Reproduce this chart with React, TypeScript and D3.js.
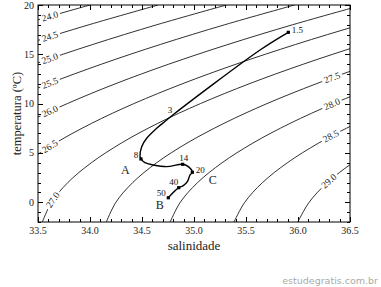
import React, { useEffect, useRef } from 'react';
import * as d3 from 'd3';

const W = 381;
const H = 287;

// temperatures (°C) at which each sigma-t isoline salinity was read
const temps = [-2, 0, 2, 4, 6, 8, 10, 12, 14, 16, 18, 20];
// salinity of each sigma-t isoline at those temperatures
const s240 = [29.857, 29.915, 30.044, 30.242, 30.506, 30.832, 31.220, 31.667, 32.170, 32.727, 33.338, 34.000];
const s245 = [30.471, 30.534, 30.668, 30.870, 31.138, 31.469, 31.860, 32.310, 32.817, 33.377, 33.991, 34.655];
const s250 = [31.086, 31.153, 31.292, 31.498, 31.771, 32.105, 32.500, 32.954, 33.463, 34.027, 34.643, 35.311];
const s255 = [31.700, 31.772, 31.916, 32.127, 32.403, 32.742, 33.141, 33.597, 34.110, 34.677, 35.296, 35.966];
const s260 = [32.314, 32.392, 32.540, 32.755, 33.036, 33.378, 33.781, 34.241, 34.757, 35.327, 35.949, 36.622];
const s265 = [32.928, 33.011, 33.163, 33.384, 33.668, 34.015, 34.421, 34.885, 35.404, 35.977, 36.602, 37.277];
const s270 = [33.542, 33.630, 33.787, 34.012, 34.301, 34.651, 35.061, 35.528, 36.051, 36.627, 37.254, 37.933];
const s275 = [34.157, 34.249, 34.411, 34.640, 34.933, 35.288, 35.701, 36.172, 36.697, 37.277, 37.907, 38.588];
const s280 = [34.771, 34.868, 35.035, 35.269, 35.566, 35.924, 36.341, 36.815, 37.344, 37.927, 38.560, 39.244];
const s285 = [35.385, 35.488, 35.659, 35.897, 36.198, 36.561, 36.981, 37.459, 37.991, 38.577, 39.212, 39.899];
const s290 = [35.999, 36.107, 36.283, 36.526, 36.831, 37.197, 37.621, 38.103, 38.638, 39.226, 39.865, 40.555];
const isoLevels = ['24.0', '24.5', '25.0', '25.5', '26.0', '26.5', '27.0', '27.5', '28.0', '28.5', '29.0'];
const isoSal = [s240, s245, s250, s255, s260, s265, s270, s275, s280, s285, s290];

// T-S profile
const profileS = [35.907, 35.635, 34.808, 34.738, 34.641, 34.545, 34.497, 34.481, 34.490, 34.529, 34.609, 34.738, 34.891, 34.945, 34.984, 34.962, 34.936, 34.897, 34.853, 34.753];
const profileT = [17.23, 15.44, 8.95, 8.34, 7.50, 6.49, 5.63, 4.62, 4.39, 4.01, 3.78, 3.61, 3.85, 3.61, 3.04, 2.77, 2.09, 1.68, 1.48, 0.46];

// depth labels (m)
const depthNames = ['1.5', '3', '8', '14', '20', '40', '50'];
const depthS = [35.907, 34.808, 34.490, 34.891, 34.984, 34.853, 34.753];
const depthT = [17.23, 8.95, 4.39, 3.85, 3.04, 1.48, 0.46];
const depthDot = [true, false, true, true, true, true, true];

const waterMasses = ['A', 'B', 'C'];
const massS = [34.34, 34.67, 35.18];
const massT = [3.3, -0.3, 2.3];

const xTicks = ['33.5', '34.0', '34.5', '35.0', '35.5', '36.0', '36.5'];
const yTicks = ['0', '5', '10', '15', '20'];

// layout for contour labels
const labelX = [50, 50, 50, 50, 50, 50, 53, 332, 332, 331, 329];
const depthOffX = [9, -4, -5, 1, 8, -5, -7];
const depthOffY = [-2, -4, -4, -6, -2, -6, -5];

const SERIF = '"Liberation Serif", "Times New Roman", serif';

export default function App() {
  const ref = useRef<SVGSVGElement>(null);

  useEffect(() => {
    const svg = d3.select(ref.current);
    svg.selectAll('*').remove();

    const L = 38, R = 350, T0 = 5, B = 222;
    const x = d3.scaleLinear().domain([33.5, 36.5]).range([L, R]);
    const y = d3.scaleLinear().domain([-2, 20]).range([B, T0]);

    svg.append('rect').attr('width', W).attr('height', H).attr('fill', '#fff');

    svg.append('defs').append('clipPath').attr('id', 'plotclip')
      .append('rect').attr('x', L).attr('y', T0).attr('width', R - L).attr('height', B - T0);

    const g = svg.append('g').attr('clip-path', 'url(#plotclip)');

    const line = d3.line<[number, number]>()
      .x(d => x(d[0])).y(d => y(d[1]))
      .curve(d3.curveCatmullRom);

    const paths: SVGPathElement[] = [];
    isoSal.forEach((arr) => {
      const pts = arr.map((s, i) => [s, temps[i]] as [number, number]);
      const p = g.append('path')
        .attr('d', line(pts))
        .attr('fill', 'none')
        .attr('stroke', '#1a1a1a')
        .attr('stroke-width', 0.9);
      paths.push(p.node() as SVGPathElement);
    });

    // contour labels
    const lab = svg.append('g');
    paths.forEach((p, i) => {
      const total = p.getTotalLength();
      const tx = labelX[i];
      let lo = 0, hi = total;
      for (let k = 0; k < 40; k++) {
        const mid = (lo + hi) / 2;
        if (p.getPointAtLength(mid).x < tx) lo = mid; else hi = mid;
      }
      const len = (lo + hi) / 2;
      const pt = p.getPointAtLength(len);
      const a = p.getPointAtLength(Math.max(0, len - 3));
      const b = p.getPointAtLength(Math.min(total, len + 3));
      const ang = Math.atan2(b.y - a.y, b.x - a.x) * 180 / Math.PI;
      const gg = lab.append('g').attr('transform', `translate(${pt.x},${pt.y}) rotate(${ang})`);
      gg.append('rect').attr('x', -10.5).attr('y', -4.5).attr('width', 21).attr('height', 9).attr('fill', '#fff');
      gg.append('text')
        .attr('text-anchor', 'middle')
        .attr('dominant-baseline', 'central')
        .attr('font-family', SERIF)
        .attr('font-size', 9.5)
        .attr('fill', '#222')
        .text(isoLevels[i]);
    });

    // profile
    const prof = profileS.map((s, i) => [s, profileT[i]] as [number, number]);
    svg.append('path')
      .attr('d', line(prof))
      .attr('fill', 'none')
      .attr('stroke', '#000')
      .attr('stroke-width', 1.4);

    depthNames.forEach((n, i) => {
      const px = x(depthS[i]), py = y(depthT[i]);
      if (depthDot[i]) {
        svg.append('rect').attr('x', px - 1.6).attr('y', py - 1.6).attr('width', 3.2).attr('height', 3.2).attr('fill', '#000');
      }
      svg.append('text')
        .attr('x', px + depthOffX[i]).attr('y', py + depthOffY[i])
        .attr('text-anchor', 'middle').attr('dominant-baseline', 'central')
        .attr('font-family', SERIF).attr('font-size', 9).attr('fill', '#111')
        .text(n);
    });

    waterMasses.forEach((m, i) => {
      svg.append('text')
        .attr('x', x(massS[i])).attr('y', y(massT[i]))
        .attr('text-anchor', 'middle').attr('dominant-baseline', 'central')
        .attr('font-family', SERIF).attr('font-size', 12).attr('fill', '#222')
        .text(m);
    });

    // frame
    svg.append('rect').attr('x', L).attr('y', T0).attr('width', R - L).attr('height', B - T0)
      .attr('fill', 'none').attr('stroke', '#000').attr('stroke-width', 1);

    const ax = svg.append('g').attr('stroke', '#000').attr('stroke-width', 1);
    const xMinor = d3.range(0, 31).map(i => 33.5 + i * 0.1);
    xMinor.forEach((v, i) => {
      const len = i % 5 === 0 ? 5 : 3;
      const px = Math.round(x(v)) + 0.5;
      ax.append('line').attr('x1', px).attr('x2', px).attr('y1', B).attr('y2', B - len);
      ax.append('line').attr('x1', px).attr('x2', px).attr('y1', T0).attr('y2', T0 + len);
    });
    const yMinor = d3.range(-2, 21);
    yMinor.forEach((v) => {
      const len = v % 5 === 0 ? 5 : 3;
      const py = Math.round(y(v)) + 0.5;
      ax.append('line').attr('x1', L).attr('x2', L + len).attr('y1', py).attr('y2', py);
      ax.append('line').attr('x1', R).attr('x2', R - len).attr('y1', py).attr('y2', py);
    });

    xTicks.forEach((t) => {
      svg.append('text')
        .attr('x', x(+t)).attr('y', B + 12)
        .attr('text-anchor', 'middle')
        .attr('font-family', SERIF).attr('font-size', 10).attr('fill', '#222')
        .text(t);
    });
    yTicks.forEach((t) => {
      svg.append('text')
        .attr('x', L - 4).attr('y', y(+t))
        .attr('text-anchor', 'end').attr('dominant-baseline', 'central')
        .attr('font-family', SERIF).attr('font-size', 10).attr('fill', '#222')
        .text(t);
    });

    svg.append('text')
      .attr('x', (L + R) / 2).attr('y', 250)
      .attr('text-anchor', 'middle')
      .attr('font-family', SERIF).attr('font-size', 13).attr('fill', '#222')
      .text('salinidade');

    svg.append('text')
      .attr('transform', `translate(17,${(T0 + B) / 2}) rotate(-90)`)
      .attr('text-anchor', 'middle').attr('dominant-baseline', 'central')
      .attr('font-family', SERIF).attr('font-size', 12.5).attr('fill', '#222')
      .text('temperatura (ºC)');

    svg.append('text')
      .attr('x', 378).attr('y', 284)
      .attr('text-anchor', 'end')
      .attr('font-family', '"DejaVu Sans", sans-serif').attr('font-size', 9.5)
      .attr('fill', '#aaa')
      .text('estudegratis.com.br');
  }, []);

  return (
    <svg
      ref={ref}
      width={W}
      height={H}
      style={{ position: 'absolute', left: 0, top: 0, display: 'block' }}
    />
  );
}
